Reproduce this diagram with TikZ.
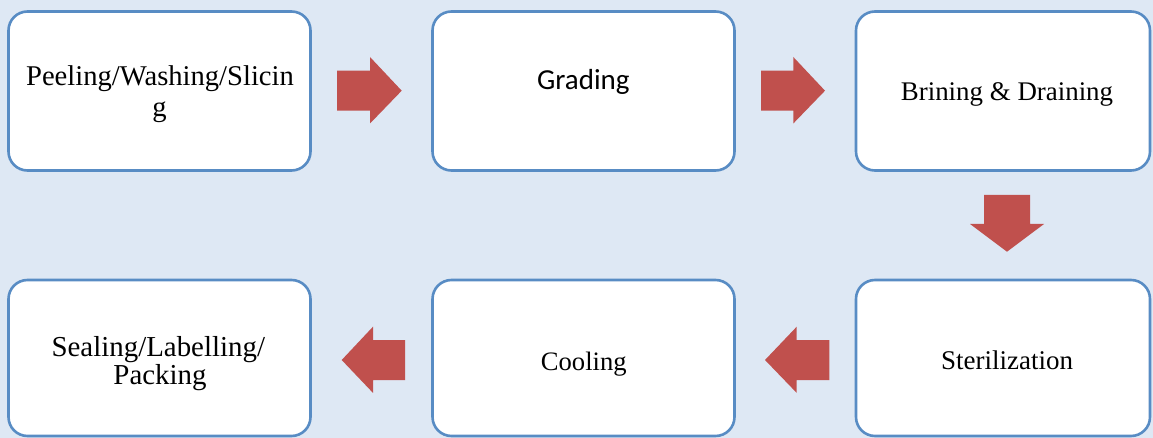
\documentclass[tikz,border=0pt]{standalone}
\usepackage{fontspec}
\setmainfont{Liberation Serif}
\newfontfamily\gradefont{Carlito}
\newcommand\setfs[1]{\fontsize{#1}{#1}\selectfont}
\definecolor{bgblue}{RGB}{222,232,244}
\definecolor{boxline}{RGB}{88,140,196}
\definecolor{arrred}{RGB}{192,80,77}
\tikzset{
  box/.style={draw=boxline, line width=2.6pt, fill=white, rounded corners=19pt,
              inner sep=0pt, minimum height=159pt},
  boxlow/.style={box, minimum height=156pt},
  txt/.style={anchor=base, inner sep=0pt, text=black},
  blockarrow/.style={fill=arrred, draw=none},
}
\begin{document}
\begin{tikzpicture}[x=1pt, y=-1pt]
\useasboundingbox (0,0) rectangle (1153,438);
\fill[bgblue] (0,0) rectangle (1153,438);
\clip (0,0) rectangle (1153,438);

% top row boxes
\node[box, minimum width=302pt] (b1) at (159.5,91) {};
\node[box, minimum width=302pt] (b2) at (583.5,91) {};
\node[box, minimum width=294pt] (b3) at (1003,91) {};
% bottom row boxes
\node[boxlow, minimum width=302pt] (b6) at (159.5,358) {};
\node[boxlow, minimum width=302pt] (b5) at (583.5,358) {};
\node[boxlow, minimum width=294pt] (b4) at (1003,358) {};

% texts
\node[txt, font=\setfs{28.6}] (t1a) at (160,86) {Peeling/Washing/Slicin};
\node[txt, font=\setfs{28.6}] (t1b) at (159.6,116.5) {g};
\node[txt, font=\gradefont\setfs{29}] (t2) at (583.3,89.3) {Grading};
\node[txt, font=\setfs{26.9}] (t3) at (1007,100.7) {Brining \& Draining};
\node[txt, font=\setfs{27}] (t4) at (1007,369.3) {Sterilization};
\node[txt, font=\setfs{26.6}] (t5) at (583.8,370) {Cooling};
\node[txt, font=\setfs{28.9}] (t6a) at (158.3,356) {Sealing/Labelling/};
\node[txt, font=\setfs{28.9}] (t6b) at (160,384) {Packing};

% block arrows
\fill[blockarrow] (337,70.7) -- (370,70.7) -- (370,57) -- (401.7,90.7)
  -- (370,123.5) -- (370,110.7) -- (337,110.7) -- cycle;
\fill[blockarrow] (761,70.7) -- (793.3,70.7) -- (793.3,57) -- (825,90.7)
  -- (793.3,123.5) -- (793.3,110.7) -- (761,110.7) -- cycle;
\fill[blockarrow] (984,195) -- (1030,195) -- (1030,224) -- (1044,224)
  -- (1007,251.7) -- (970,224) -- (984,224) -- cycle;
\fill[blockarrow] (829.3,340) -- (796.7,340) -- (796.7,326.7) -- (765,360)
  -- (796.7,392.9) -- (796.7,380) -- (829.3,380) -- cycle;
\fill[blockarrow] (405,340) -- (373,340) -- (373,326.7) -- (341.7,360)
  -- (373,392.9) -- (373,380) -- (405,380) -- cycle;
\end{tikzpicture}
\end{document}
